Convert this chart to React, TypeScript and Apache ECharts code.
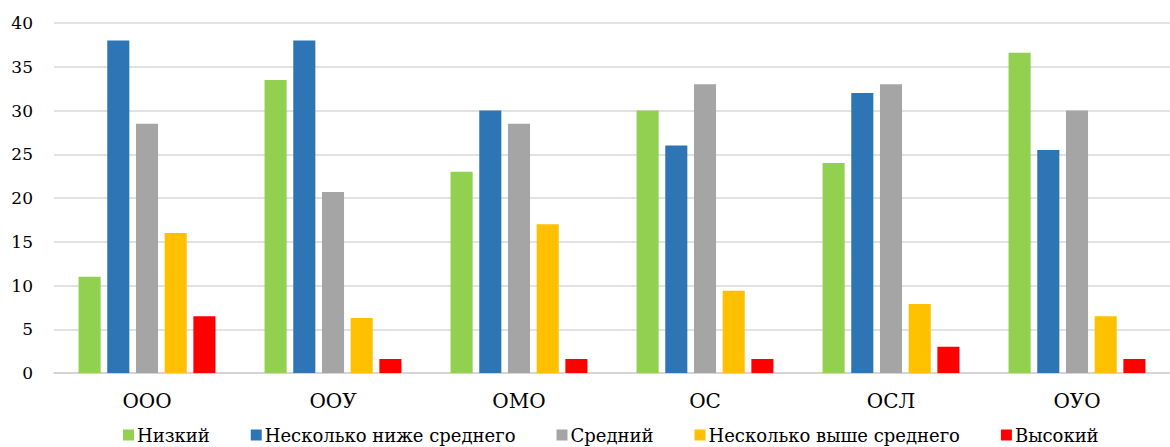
import React, { useEffect, useRef } from "react";
import * as echarts from "echarts";

const categories = ["ООО", "ООУ", "ОМО", "ОС", "ОСЛ", "ОУО"];
const seriesNames = ["Низкий", "Несколько ниже среднего", "Средний", "Несколько выше среднего", "Высокий"];
const low = [11, 33.5, 23, 30, 24, 36.6];
const belowAvg = [38, 38, 30, 26, 32, 25.5];
const avg = [28.5, 20.7, 28.5, 33, 33, 30];
const aboveAvg = [16, 6.3, 17, 9.4, 7.9, 6.5];
const high = [6.5, 1.6, 1.6, 1.6, 3, 1.6];
const colors = ["#92D050", "#2E75B6", "#A5A5A5", "#FFC000", "#FF0000"];
const yTicks = [0, 5, 10, 15, 20, 25, 30, 35, 40];

export default function App() {
  const ref = useRef<HTMLDivElement>(null);
  useEffect(() => {
    document.body.style.margin = "0";
    const chart = echarts.init(ref.current!, null, { renderer: "svg" });
    const font = "DejaVu Serif";
    const data = [low, belowAvg, avg, aboveAvg, high];
    chart.setOption({
      animation: false,
      textStyle: { fontFamily: font },
      grid: { left: 54, right: -14, top: 23, bottom: 74, containLabel: false },
      legend: {
        left: 118,
        top: 421,
        itemWidth: 11,
        itemHeight: 11,
        itemGap: 41,
        icon: "rect",
        textStyle: { fontFamily: font, fontSize: 18, color: "#000", padding: [0, 0, 0, -2] },
        data: seriesNames,
      },
      xAxis: {
        type: "category",
        data: categories,
        axisLine: { lineStyle: { color: "#D0D0D0", width: 1.5 } },
        axisTick: { show: false },
        axisLabel: { fontFamily: font, fontSize: 20, color: "#000", margin: 18 },
      },
      yAxis: {
        type: "value",
        min: yTicks[0],
        max: yTicks[yTicks.length - 1],
        interval: 5,
        axisLine: { show: false },
        axisTick: { show: false },
        splitLine: { lineStyle: { color: "#D9D9D9", width: 1.5 } },
        axisLabel: { fontFamily: font, fontSize: 17, color: "#000", margin: 21 },
      },
      series: seriesNames.map((name, i) => ({
        name,
        type: "bar",
        data: data[i],
        barCategoryGap: "26.4%",
        barGap: "30%",
        itemStyle: { color: colors[i] },
      })),
    });
    return () => chart.dispose();
  }, []);
  return <div ref={ref} style={{ width: 1170, height: 447 }} />;
}
